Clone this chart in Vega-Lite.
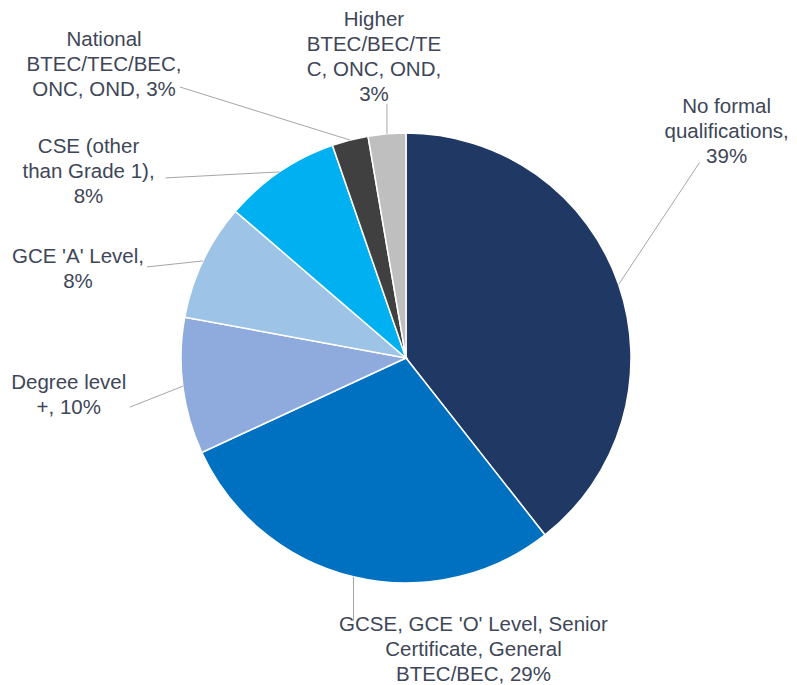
{
  "$schema": "https://vega.github.io/schema/vega-lite/v6.json",
  "width": 782,
  "height": 654,
  "autosize": "none",
  "padding": {"left": 15, "top": 31, "right": 0, "bottom": 0},
  "background": "white",
  "config": {"view": {"stroke": null}, "text": {"font": "Liberation Sans"}},
  "data": {
    "values": [
      {"ord": 1, "cat": "No formal qualifications", "share": 39.4, "label": "No formal\nqualifications,\n39%"},
      {"ord": 2, "cat": "GCSE, GCE 'O' Level, Senior Certificate, General BTEC/BEC", "share": 28.7, "label": "GCSE, GCE 'O' Level, Senior\nCertificate, General\nBTEC/BEC, 29%"},
      {"ord": 3, "cat": "Degree level +", "share": 9.8, "label": "Degree level\n+, 10%"},
      {"ord": 4, "cat": "GCE 'A' Level", "share": 8.4, "label": "GCE 'A' Level,\n8%"},
      {"ord": 5, "cat": "CSE (other than Grade 1)", "share": 8.4, "label": "CSE (other\nthan Grade 1),\n8%"},
      {"ord": 6, "cat": "National BTEC/TEC/BEC, ONC, OND", "share": 2.6, "label": "National\nBTEC/TEC/BEC,\nONC, OND, 3%"},
      {"ord": 7, "cat": "Higher BTEC/BEC/TEC, ONC, OND", "share": 2.7, "label": "Higher\nBTEC/BEC/TE\nC, ONC, OND,\n3%"}
    ]
  },
  "transform": [
    {"window": [{"op": "sum", "field": "share", "as": "cum"}], "sort": [{"field": "ord"}], "frame": [null, 0]},
    {"joinaggregate": [{"op": "sum", "field": "share", "as": "total"}]},
    {"calculate": "(datum.cum - datum.share / 2) / datum.total * 2 * PI", "as": "mid"},
    {"calculate": "225 * sin(datum.mid)", "as": "sx"},
    {"calculate": "225 * cos(datum.mid)", "as": "sy"}
  ],
  "layer": [
    {
      "mark": {"type": "arc", "outerRadius": 225, "stroke": "white", "strokeWidth": 1.5},
      "encoding": {
        "theta": {"field": "share", "type": "quantitative", "stack": true},
        "order": {"field": "ord", "type": "quantitative"},
        "color": {
          "field": "cat", "type": "nominal", "legend": null,
          "scale": {
            "domain": ["No formal qualifications", "GCSE, GCE 'O' Level, Senior Certificate, General BTEC/BEC", "Degree level +", "GCE 'A' Level", "CSE (other than Grade 1)", "National BTEC/TEC/BEC, ONC, OND", "Higher BTEC/BEC/TEC, ONC, OND"],
            "range": ["#1F3864", "#0070C0", "#8FAADC", "#9DC3E6", "#00B0F0", "#404040", "#BFBFBF"]
          }
        }
      }
    },
    {
      "transform": [{"filter": "datum.ord == 1"}, {"calculate": "datum.sx + 81", "as": "ex"}, {"calculate": "datum.sy + 122", "as": "ey"}],
      "layer": [
        {"mark": {"type": "rule", "color": "#A6A6A6", "strokeWidth": 1},
         "encoding": {"x": {"field": "sx", "type": "quantitative", "scale": {"domain": [-391, 391], "nice": false, "zero": false}, "axis": null},
                      "y": {"field": "sy", "type": "quantitative", "scale": {"domain": [-327, 327], "nice": false, "zero": false}, "axis": null},
                      "x2": {"field": "ex"}, "y2": {"field": "ey"}}},
        {"mark": {"type": "text", "fontSize": 20.5, "lineHeight": 25, "color": "#3E4657", "align": "center", "baseline": "middle", "lineBreak": "\n", "dx": 108, "dy": -177},
         "encoding": {"x": {"field": "sx", "type": "quantitative"}, "y": {"field": "sy", "type": "quantitative"}, "text": {"field": "label"}}}
      ]
    },
    {
      "transform": [{"filter": "datum.ord == 2"}, {"calculate": "datum.sx + 0", "as": "ex"}, {"calculate": "datum.sy - 44", "as": "ey"}],
      "layer": [
        {"mark": {"type": "rule", "color": "#A6A6A6", "strokeWidth": 1},
         "encoding": {"x": {"field": "sx", "type": "quantitative"}, "y": {"field": "sy", "type": "quantitative"}, "x2": {"field": "ex"}, "y2": {"field": "ey"}}},
        {"mark": {"type": "text", "fontSize": 20.5, "lineHeight": 25, "color": "#3E4657", "align": "center", "baseline": "middle", "lineBreak": "\n", "dx": 120, "dy": 48},
         "encoding": {"x": {"field": "sx", "type": "quantitative"}, "y": {"field": "sy", "type": "quantitative"}, "text": {"field": "label"}}}
      ]
    },
    {
      "transform": [{"filter": "datum.ord == 3"}, {"calculate": "datum.sx - 53", "as": "ex"}, {"calculate": "datum.sy - 21", "as": "ey"}],
      "layer": [
        {"mark": {"type": "rule", "color": "#A6A6A6", "strokeWidth": 1},
         "encoding": {"x": {"field": "sx", "type": "quantitative"}, "y": {"field": "sy", "type": "quantitative"}, "x2": {"field": "ex"}, "y2": {"field": "ey"}}},
        {"mark": {"type": "text", "fontSize": 20.5, "lineHeight": 25, "color": "#3E4657", "align": "center", "baseline": "middle", "lineBreak": "\n", "dx": -114, "dy": -3.5},
         "encoding": {"x": {"field": "sx", "type": "quantitative"}, "y": {"field": "sy", "type": "quantitative"}, "text": {"field": "label"}}}
      ]
    },
    {
      "transform": [{"filter": "datum.ord == 4"}, {"calculate": "datum.sx - 56", "as": "ex"}, {"calculate": "datum.sy - 6", "as": "ey"}],
      "layer": [
        {"mark": {"type": "rule", "color": "#A6A6A6", "strokeWidth": 1},
         "encoding": {"x": {"field": "sx", "type": "quantitative"}, "y": {"field": "sy", "type": "quantitative"}, "x2": {"field": "ex"}, "y2": {"field": "ey"}}},
        {"mark": {"type": "text", "fontSize": 20.5, "lineHeight": 25, "color": "#3E4657", "align": "center", "baseline": "middle", "lineBreak": "\n", "dx": -125, "dy": -3.5},
         "encoding": {"x": {"field": "sx", "type": "quantitative"}, "y": {"field": "sy", "type": "quantitative"}, "text": {"field": "label"}}}
      ]
    },
    {
      "transform": [{"filter": "datum.ord == 5"}, {"calculate": "datum.sx - 114", "as": "ex"}, {"calculate": "datum.sy - 6", "as": "ey"}],
      "layer": [
        {"mark": {"type": "rule", "color": "#A6A6A6", "strokeWidth": 1},
         "encoding": {"x": {"field": "sx", "type": "quantitative"}, "y": {"field": "sy", "type": "quantitative"}, "x2": {"field": "ex"}, "y2": {"field": "ey"}}},
        {"mark": {"type": "text", "fontSize": 20.5, "lineHeight": 25, "color": "#3E4657", "align": "center", "baseline": "middle", "lineBreak": "\n", "dx": -191, "dy": -25},
         "encoding": {"x": {"field": "sx", "type": "quantitative"}, "y": {"field": "sy", "type": "quantitative"}, "text": {"field": "label"}}}
      ]
    },
    {
      "transform": [{"filter": "datum.ord == 6"}, {"calculate": "datum.sx - 170", "as": "ex"}, {"calculate": "datum.sy + 53", "as": "ey"}],
      "layer": [
        {"mark": {"type": "rule", "color": "#A6A6A6", "strokeWidth": 1},
         "encoding": {"x": {"field": "sx", "type": "quantitative"}, "y": {"field": "sy", "type": "quantitative"}, "x2": {"field": "ex"}, "y2": {"field": "ey"}}},
        {"mark": {"type": "text", "fontSize": 20.5, "lineHeight": 25, "color": "#3E4657", "align": "center", "baseline": "middle", "lineBreak": "\n", "dx": -246, "dy": -100},
         "encoding": {"x": {"field": "sx", "type": "quantitative"}, "y": {"field": "sy", "type": "quantitative"}, "text": {"field": "label"}}}
      ]
    },
    {
      "transform": [{"filter": "datum.ord == 7"}, {"calculate": "datum.sx + 0", "as": "ex"}, {"calculate": "datum.sy + 30", "as": "ey"}],
      "layer": [
        {"mark": {"type": "rule", "color": "#A6A6A6", "strokeWidth": 1},
         "encoding": {"x": {"field": "sx", "type": "quantitative"}, "y": {"field": "sy", "type": "quantitative"}, "x2": {"field": "ex"}, "y2": {"field": "ey"}}},
        {"mark": {"type": "text", "fontSize": 20.5, "lineHeight": 25, "color": "#3E4657", "align": "center", "baseline": "middle", "lineBreak": "\n", "dx": -13, "dy": -113.5},
         "encoding": {"x": {"field": "sx", "type": "quantitative"}, "y": {"field": "sy", "type": "quantitative"}, "text": {"field": "label"}}}
      ]
    }
  ]
}
